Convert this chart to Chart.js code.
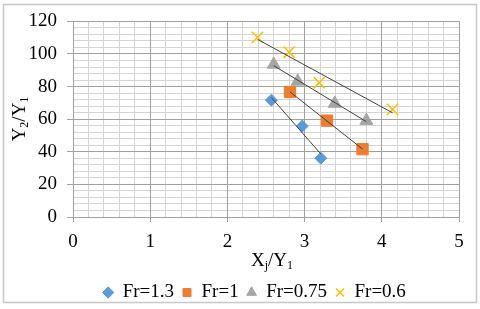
<!DOCTYPE html>
<html>
<head>
<meta charset="utf-8">
<script src="https://cdn.jsdelivr.net/npm/chart.js@4/dist/chart.umd.min.js"></script>
<style>
html, body { margin: 0; padding: 0; background: #fff; }
#wrap { width: 480px; height: 309px; }
</style>
</head>
<body>
<div id="wrap"><canvas id="chart"></canvas></div>
<script>
// values
const seriesNames = ['Fr=1.3', 'Fr=1', 'Fr=0.75', 'Fr=0.6'];
const xFr13 = [2.57, 2.97, 3.21];
const yFr13 = [71.7, 55.8, 36.1];
const xFr1 = [2.81, 3.29, 3.75];
const yFr1 = [76.7, 59.1, 41.6];
const xFr075 = [2.60, 2.91, 3.39, 3.80];
const yFr075 = [93.6, 83.2, 69.6, 59.1];
const xFr06 = [2.39, 2.80, 3.19, 4.14];
const yFr06 = [110.2, 101.1, 82.4, 66.0];
const xTicks = [0, 1, 2, 3, 4, 5];
const yTicks = [0, 20, 40, 60, 80, 100, 120];

const FONT = "'Liberation Serif', 'Times New Roman', serif";
const majorGrid = '#a0a0a0';
const minorGrid = '#d4d4d4';

function points(xs, ys) {
    return xs.map((x, i) => ({ x: x, y: ys[i] }));
}

// linear trendline over the range of the series
function trend(xs, ys) {
    const n = xs.length;
    const mx = xs.reduce((a, b) => a + b, 0) / n;
    const my = ys.reduce((a, b) => a + b, 0) / n;
    let sxy = 0, sxx = 0;
    for (let i = 0; i < n; i++) {
        sxy += (xs[i] - mx) * (ys[i] - my);
        sxx += (xs[i] - mx) * (xs[i] - mx);
    }
    const b = sxy / sxx;
    const a = my - b * mx;
    const x0 = Math.min(...xs), x1 = Math.max(...xs);
    return [{ x: x0, y: a + b * x0 }, { x: x1, y: a + b * x1 }];
}

const series = [
    { xs: xFr13, ys: yFr13, style: 'rectRot', r: 6, color: '#5b9bd5', bw: 1 },
    { xs: xFr1, ys: yFr1, style: 'rect', r: 8, color: '#ed7d31', bw: 1 },
    { xs: xFr075, ys: yFr075, style: 'triangle', r: 7.5, color: '#a5a5a5', bw: 1 },
    { xs: xFr06, ys: yFr06, style: 'crossRot', r: 8, color: '#ffc000', bw: 1.5 }
];

const datasets = series.map((s, i) => ({
    label: seriesNames[i],
    data: points(s.xs, s.ys),
    pointStyle: s.style,
    pointRadius: s.r,
    pointHoverRadius: s.r,
    backgroundColor: s.color,
    borderColor: s.color,
    borderWidth: s.bw,
    showLine: false
}));

series.forEach(s => {
    datasets.push({
        label: 'trend',
        data: trend(s.xs, s.ys),
        showLine: true,
        borderColor: '#404040',
        borderWidth: 1,
        pointRadius: 0,
        order: -1
    });
});

// draws text pieces with subscripts, centred on (0,0)
function drawSub(ctx, parts, size) {
    const subSize = Math.round(size * 0.65);
    let total = 0;
    parts.forEach(p => {
        ctx.font = (p.sub ? subSize : size) + 'px ' + FONT;
        p.w = ctx.measureText(p.t).width;
        total += p.w;
    });
    let x = -total / 2;
    parts.forEach(p => {
        ctx.font = (p.sub ? subSize : size) + 'px ' + FONT;
        ctx.fillText(p.t, x, p.sub ? 5 : 0);
        x += p.w;
    });
}

const decor = {
    id: 'decor',
    afterLayout(chart) {
        // legend in the original sits a little right of centre and lower
        const lg = chart.legend;
        lg.left += 25;
        lg.right += 25;
        lg.top += 3;
        lg.bottom += 3;
    },
    beforeDraw(chart) {
        const ctx = chart.ctx;
        ctx.save();
        ctx.strokeStyle = '#c8c8c8';
        ctx.lineWidth = 1.5;
        ctx.strokeRect(3.5, 4.5, 473, 298);
        ctx.restore();
    },
    afterDraw(chart) {
        const ctx = chart.ctx;
        ctx.save();
        ctx.fillStyle = '#000';
        ctx.textBaseline = 'middle';
        ctx.textAlign = 'left';
        ctx.translate(272, 261);
        drawSub(ctx, [{ t: 'X' }, { t: 'j', sub: true }, { t: '/Y' }, { t: '1', sub: true }], 19);
        ctx.restore();

        ctx.save();
        ctx.fillStyle = '#000';
        ctx.textBaseline = 'middle';
        ctx.textAlign = 'left';
        ctx.translate(20, 119);
        ctx.rotate(-Math.PI / 2);
        drawSub(ctx, [{ t: 'Y' }, { t: '2', sub: true }, { t: '/Y' }, { t: '1', sub: true }], 19);
        ctx.restore();
    }
};

new Chart(document.getElementById('chart'), {
    type: 'scatter',
    data: { datasets: datasets },
    plugins: [decor],
    options: {
        responsive: true,
        maintainAspectRatio: false,
        animation: false,
        layout: { padding: { top: 19, right: 21, left: 0, bottom: 0 } },
        plugins: {
            tooltip: { enabled: false },
            legend: {
                position: 'bottom',
                labels: {
                    usePointStyle: true,
                    boxWidth: 10,
                    boxHeight: 8,
                    padding: 8,
                    color: '#000',
                    font: { family: FONT, size: 19 },
                    filter: item => item.datasetIndex < 4
                }
            }
        },
        scales: {
            xMinor: {
                type: 'linear', axis: 'x', position: 'bottom', min: 0, max: 5, z: -1,
                ticks: { display: false, stepSize: 0.2, autoSkip: false },
                grid: { color: minorGrid, drawTicks: false },
                border: { display: false },
                afterFit: s => { s.height = 0; }
            },
            yMinor: {
                type: 'linear', axis: 'y', position: 'left', min: 0, max: 120, z: -1,
                ticks: { display: false, stepSize: 4, autoSkip: false },
                grid: { color: minorGrid, drawTicks: false },
                border: { display: false },
                afterFit: s => { s.width = 0; }
            },
            x: {
                type: 'linear', position: 'bottom', min: 0, max: 5,
                afterBuildTicks: s => { s.ticks = xTicks.map(v => ({ value: v })); },
                ticks: { color: '#000', font: { family: FONT, size: 19 }, padding: 9 },
                grid: { color: majorGrid, tickLength: 5 },
                border: { color: majorGrid },
                afterFit: s => { s.height = 55; }
            },
            y: {
                type: 'linear', position: 'left', min: 0, max: 120,
                afterBuildTicks: s => { s.ticks = yTicks.map(v => ({ value: v })); },
                ticks: { color: '#000', font: { family: FONT, size: 19 }, padding: 10 },
                grid: { color: majorGrid, tickLength: 6 },
                border: { color: majorGrid },
                afterFit: s => { s.width = 73; }
            }
        }
    }
});
</script>
</body>
</html>
